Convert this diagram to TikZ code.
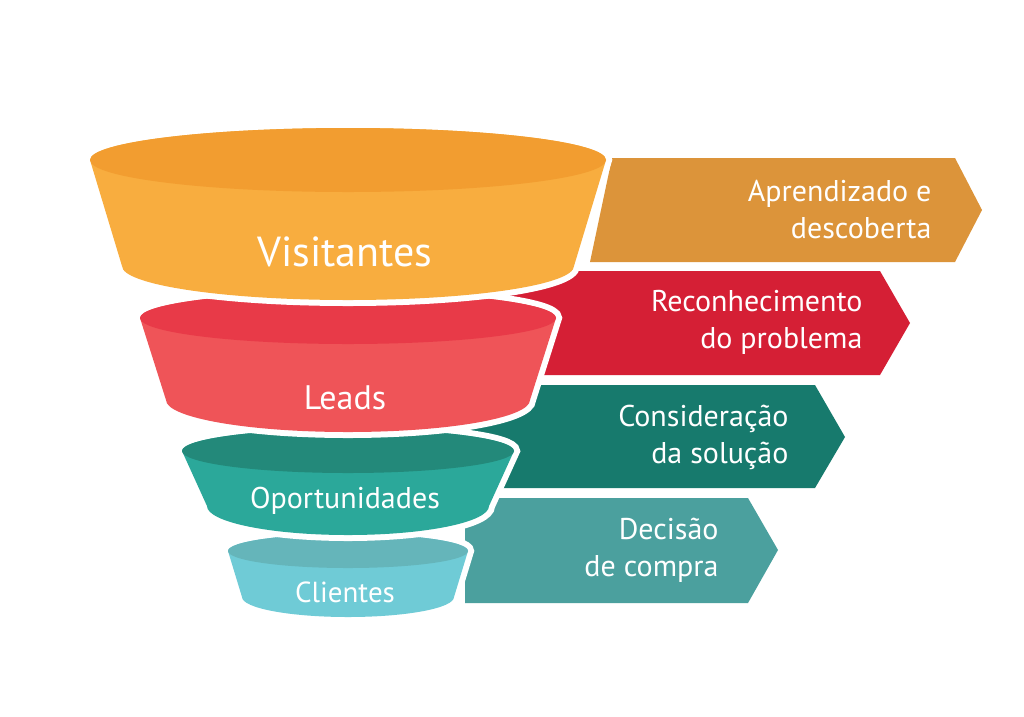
\documentclass[tikz,border=0pt]{standalone}
\usepackage{fontspec}
\setmainfont{PT Sans}
\definecolor{o1}{HTML}{F29D30}\definecolor{o2}{HTML}{F8AD3F}
\definecolor{r1}{HTML}{E83A48}\definecolor{r2}{HTML}{EF5458}
\definecolor{g1}{HTML}{23897A}\definecolor{g2}{HTML}{2BA89A}
\definecolor{c1}{HTML}{65B5BA}\definecolor{c2}{HTML}{6FCBD6}
\definecolor{b1}{HTML}{DC943A}\definecolor{b2}{HTML}{D51F35}
\definecolor{b3}{HTML}{177A6D}\definecolor{b4}{HTML}{4BA09E}
\newcommand{\seg}[9]{% cx, cy1, rx1, ry1, cy2, rx2, ry2, topcolor, bodycolor
  \path[draw=white,line width=12pt,fill=white] (#1-#3,#2) -- (#1-#6,#5) arc[start angle=180,end angle=0,x radius=#6,y radius=#7] -- (#1+#3,#2) arc[start angle=0,end angle=-180,x radius=#3,y radius=#4] -- cycle;
  \fill[#9] (#1-#3,#2) -- (#1-#6,#5) arc[start angle=180,end angle=0,x radius=#6,y radius=#7] -- (#1+#3,#2) arc[start angle=0,end angle=-180,x radius=#3,y radius=#4] -- cycle;
  \fill[#8] (#1,#2) ellipse[x radius=#3,y radius=#4];
}
\tikzset{lbl/.style={text=white,align=right,font=\fontsize{30}{37}\selectfont,anchor=east}}
\begin{document}
\begin{tikzpicture}[x=1pt,y=-1pt]
\useasboundingbox (0,0) rectangle (1024,716);
\fill[white] (0,0) rectangle (1024,716);
% banners
\fill[b1] (612,158) -- (955,158) -- (982,210) -- (955,262) -- (590,262) -- cycle;
\fill[b2] (500,271) -- (880,271) -- (910,323) -- (880,375) -- (500,375) -- cycle;
\fill[b3] (460,385) -- (815,385) -- (845,437) -- (815,488) -- (460,488) -- cycle;
\fill[b4] (465,498) -- (748,498) -- (778,550) -- (748,603) -- (465,603) -- cycle;
\node[lbl] (t1) at (935,210) {Aprendizado e\\descoberta};
\node[lbl] (t2) at (866,322) {Reconhecimento\\do problema};
\node[lbl] (t3) at (792,437) {Consideração\\da solução};
\node[lbl] (t4) at (722,550) {Decisão\\de compra};
% funnel
\seg{348}{551}{120}{17}{597}{106}{20}{c1}{c2}
\seg{348}{451}{166}{22}{506}{141}{29}{g1}{g2}
\seg{348}{318}{208}{26}{400}{182}{32}{r1}{r2}
\seg{348}{160}{258}{32}{266}{226}{34}{o1}{o2}
\node[text=white,font=\fontsize{42}{48}\selectfont] (v) at (345,252) {Visitantes};
\node[text=white,font=\fontsize{34}{40}\selectfont] (l) at (345,398) {Leads};
\node[text=white,font=\fontsize{30}{36}\selectfont] (o) at (345,501) {Oportunidades};
\node[text=white,font=\fontsize{29}{34}\selectfont] (c) at (345,592) {Clientes};
\end{tikzpicture}
\end{document}
